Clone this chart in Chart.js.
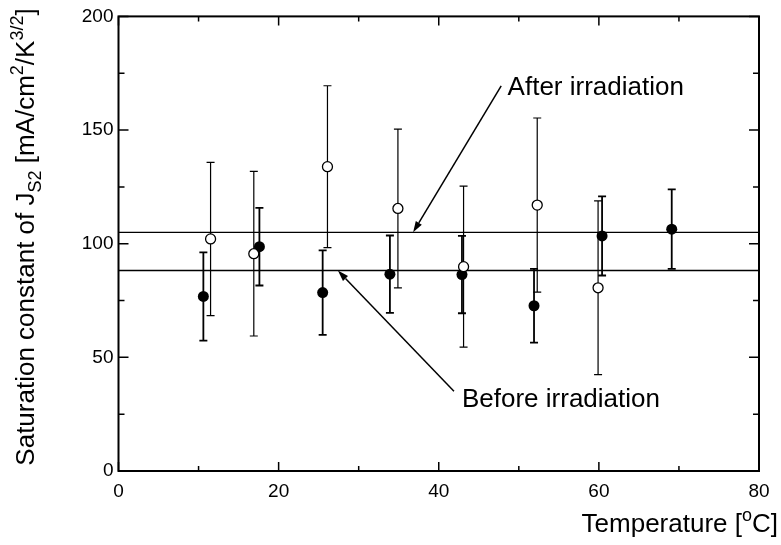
<!DOCTYPE html>
<html>
<head>
<meta charset="utf-8">
<script src="https://cdn.jsdelivr.net/npm/chart.js@4/dist/chart.umd.min.js"></script>
<style>
  body { margin: 0; background: #fff; }
  #wrap { width: 781px; height: 545px; }
</style>
</head>
<body>
<div id="wrap"><canvas id="chart"></canvas></div>
<script>
// Before irradiation (filled circles)
const beforeTemp = [10.6, 17.6, 25.5, 33.9, 42.9, 51.9, 60.4, 69.1];
const beforeVal = [76.8, 98.7, 78.5, 86.6, 86.4, 72.7, 103.4, 106.4];
const beforeErr = [19.4, 17.1, 18.6, 17.0, 17.0, 16.2, 17.4, 17.5];

// After irradiation (open circles)
const afterTemp = [11.5, 16.9, 26.1, 34.9, 43.1, 52.3, 59.9];
const afterVal = [102.1, 95.6, 133.9, 115.5, 89.9, 117.0, 80.6];
const afterErr = [33.7, 36.2, 35.6, 34.9, 35.4, 38.3, 38.2];

// mean levels
const beforeMean = 88.2;
const afterMean = 105;

const xTicks = [0, 20, 40, 60, 80];
const yTicks = [0, 50, 100, 150, 200];

const FONT = '"Liberation Sans", Arial, Helvetica, sans-serif';

// annotation text + arrow, in data units
const notes = [
  { text: "After irradiation", tx: 48.6, ty: 165.4, from: [47.8, 169.4], to: [36.8, afterMean] },
  { text: "Before irradiation", tx: 42.9, ty: 28.2, from: [41.9, 35.1], to: [27.4, beforeMean] }
];

function pts(xs, ys) {
  return xs.map((x, i) => ({ x: x, y: ys[i] }));
}

function fontFor(mode, size) {
  const s = mode ? Math.round(size * 0.68) : size;
  return s + "px " + FONT;
}

function drawRich(ctx, parts, x, y, size, align) {
  const widths = parts.map((p) => {
    ctx.font = fontFor(p[1], size);
    return ctx.measureText(p[0]).width;
  });
  const total = widths.reduce((a, b) => a + b, 0);
  let cx = align === "right" ? x - total : align === "center" ? x - total / 2 : x;
  ctx.textAlign = "left";
  ctx.textBaseline = "alphabetic";
  parts.forEach((p, i) => {
    ctx.font = fontFor(p[1], size);
    const dy = p[1] === "sub" ? size * 0.26 : p[1] === "sup" ? -size * 0.42 : 0;
    ctx.fillText(p[0], cx, y + dy);
    cx += widths[i];
  });
}

const errorBars = {
  id: "errorBars",
  beforeDatasetsDraw(chart) {
    const { ctx, scales } = chart;
    const sets = [
      { xs: beforeTemp, ys: beforeVal, es: beforeErr, lw: 1.8 },
      { xs: afterTemp, ys: afterVal, es: afterErr, lw: 1.2 }
    ];
    ctx.save();
    ctx.strokeStyle = "#000";
    sets.forEach((s) => {
      ctx.lineWidth = s.lw;
      s.xs.forEach((xv, i) => {
        const px = scales.x.getPixelForValue(xv);
        const top = scales.y.getPixelForValue(s.ys[i] + s.es[i]);
        const bot = scales.y.getPixelForValue(s.ys[i] - s.es[i]);
        ctx.beginPath();
        ctx.moveTo(px, top);
        ctx.lineTo(px, bot);
        ctx.moveTo(px - 4, top);
        ctx.lineTo(px + 4, top);
        ctx.moveTo(px - 4, bot);
        ctx.lineTo(px + 4, bot);
        ctx.stroke();
      });
    });
    ctx.restore();
  }
};

const frame = {
  id: "frame",
  afterDatasetsDraw(chart) {
    const { ctx, chartArea: a, scales } = chart;
    ctx.save();
    ctx.strokeStyle = "#000";
    ctx.fillStyle = "#000";
    ctx.lineWidth = 2;
    ctx.strokeRect(a.left, a.top, a.right - a.left, a.bottom - a.top);

    // inward ticks on all four sides
    ctx.lineWidth = 1.5;
    ctx.beginPath();
    for (let v = 0; v <= 80; v += 10) {
      const px = scales.x.getPixelForValue(v);
      const len = v % 20 === 0 ? 9 : 5;
      ctx.moveTo(px, a.bottom);
      ctx.lineTo(px, a.bottom - len);
      ctx.moveTo(px, a.top);
      ctx.lineTo(px, a.top + len);
    }
    for (let v = 0; v <= 200; v += 25) {
      const py = scales.y.getPixelForValue(v);
      const len = v % 50 === 0 ? 10 : 6;
      ctx.moveTo(a.left, py);
      ctx.lineTo(a.left + len, py);
      ctx.moveTo(a.right, py);
      ctx.lineTo(a.right - len, py);
    }
    ctx.stroke();

    // annotations
    ctx.lineWidth = 1.5;
    notes.forEach((n) => {
      const x1 = scales.x.getPixelForValue(n.from[0]);
      const y1 = scales.y.getPixelForValue(n.from[1]);
      const x2 = scales.x.getPixelForValue(n.to[0]);
      const y2 = scales.y.getPixelForValue(n.to[1]);
      const ang = Math.atan2(y2 - y1, x2 - x1);
      const hl = 11, hw = 3.5;
      const bx = x2 - hl * Math.cos(ang), by = y2 - hl * Math.sin(ang);
      ctx.beginPath();
      ctx.moveTo(x1, y1);
      ctx.lineTo(bx, by);
      ctx.stroke();
      ctx.beginPath();
      ctx.moveTo(x2, y2);
      ctx.lineTo(bx + hw * Math.sin(ang), by - hw * Math.cos(ang));
      ctx.lineTo(bx - hw * Math.sin(ang), by + hw * Math.cos(ang));
      ctx.closePath();
      ctx.fill();
      drawRich(ctx, [[n.text, ""]], scales.x.getPixelForValue(n.tx), scales.y.getPixelForValue(n.ty), 26, "left");
    });

    // axis titles
    drawRich(ctx, [["Temperature [", ""], ["o", "sup"], ["C]", ""]], 778, 532, 26, "right");
    ctx.save();
    ctx.translate(34, 237);
    ctx.rotate(-Math.PI / 2);
    drawRich(ctx, [
      ["Saturation constant of J", ""], ["S2", "sub"], [" [mA/cm", ""], ["2", "sup"],
      ["/K", ""], ["3/2", "sup"], ["]", ""]
    ], 0, 0, 26, "center");
    ctx.restore();
    ctx.restore();
  }
};

new Chart(document.getElementById("chart"), {
  type: "scatter",
  data: {
    datasets: [
      {
        label: "After irradiation",
        data: pts(afterTemp, afterVal),
        pointStyle: "circle",
        pointRadius: 5,
        pointBackgroundColor: "#fff",
        pointBorderColor: "#000",
        pointBorderWidth: 1.3
      },
      {
        label: "Before irradiation",
        data: pts(beforeTemp, beforeVal),
        pointRadius: 5.5,
        pointBackgroundColor: "#000",
        pointBorderColor: "#000",
        pointBorderWidth: 0
      },
      {
        type: "line",
        label: "After mean",
        data: [{ x: 0, y: afterMean }, { x: 80, y: afterMean }],
        borderColor: "#000",
        borderWidth: 1.4,
        pointRadius: 0
      },
      {
        type: "line",
        label: "Before mean",
        data: [{ x: 0, y: beforeMean }, { x: 80, y: beforeMean }],
        borderColor: "#000",
        borderWidth: 1.4,
        pointRadius: 0
      }
    ]
  },
  options: {
    responsive: true,
    maintainAspectRatio: false,
    animation: false,
    layout: { padding: { left: 0, top: 12, right: 22, bottom: 0 } },
    plugins: { legend: { display: false }, tooltip: { enabled: false } },
    scales: {
      x: {
        type: "linear",
        min: 0,
        max: 80,
        afterFit: (scale) => { scale.height = 74; },
        afterBuildTicks: (scale) => { scale.ticks = xTicks.map((v) => ({ value: v })); },
        grid: { display: false, drawTicks: false },
        border: { display: false },
        ticks: { color: "#000", padding: 9, font: { family: FONT, size: 19 } }
      },
      y: {
        type: "linear",
        min: 0,
        max: 200,
        afterFit: (scale) => { scale.width = 118.5; },
        afterBuildTicks: (scale) => { scale.ticks = yTicks.map((v) => ({ value: v })); },
        grid: { display: false, drawTicks: false },
        border: { display: false },
        ticks: { color: "#000", padding: 5, font: { family: FONT, size: 19 } }
      }
    }
  },
  plugins: [errorBars, frame]
});
</script>
</body>
</html>
